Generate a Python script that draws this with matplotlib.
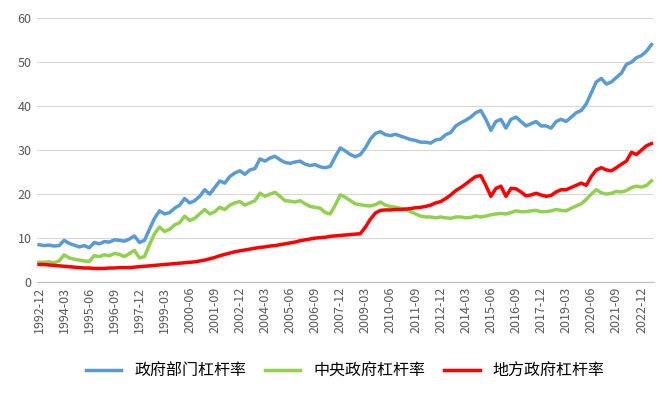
import matplotlib
matplotlib.use("Agg")
import matplotlib.pyplot as plt

plt.rcParams["font.family"] = ["Noto Sans CJK SC"]

gov = [8.5,
 8.3,8.4,8.2,8.3, 9.5,8.8,8.4,8.0, 8.3,7.8,9.0,8.7, 9.2,9.1,9.6,9.5, 9.3,9.8,10.5,9.0,
 9.5,12,14.5,16.2, 15.5,15.8,16.8,17.5, 19,18,18.5,19.5, 21,20,21.5,23, 22.5,24,24.8,25.3,
 24.5,25.5,25.8,28, 27.5,28.2,28.6,27.8, 27.2,27,27.3,27.5, 26.8,26.5,26.7,26.2, 26,26.3,28.5,30.5,
 29.8,29,28.5,29, 30.5,32.5,33.8,34.2, 33.5,33.3,33.6,33.2, 32.8,32.4,32.2,31.8, 31.8,31.6,32.3,32.5,
 33.5,34,35.5,36.2, 36.8,37.5,38.5,39, 37,34.5,36.5,37, 35,37,37.5,36.5, 35.5,36,36.5,35.5,
 35.5,35,36.5,37, 36.5,37.5,38.5,39, 40.5,43,45.5,46.3, 45,45.5,46.5,47.5, 49.5,50,51,51.5, 52.5,54]
central = [4.5,
 4.5,4.6,4.4,4.8, 6.2,5.5,5.2,5.0, 4.8,4.7,6.0,5.8, 6.2,6.0,6.5,6.3, 5.8,6.5,7.2,5.5,
 5.8,8.5,11,12.5, 11.5,12,13,13.5, 15,14,14.5,15.5, 16.5,15.5,16,17, 16.5,17.5,18,18.3,
 17.5,18,18.5,20.2, 19.5,20,20.4,19.5, 18.5,18.4,18.2,18.5, 17.8,17.2,17,16.8, 15.8,15.5,17.5,19.8,
 19.3,18.5,17.8,17.6, 17.4,17.3,17.6,18.2, 17.5,17.2,17,16.8, 16.5,16,15.5,15, 14.8,14.8,14.6,14.8,
 14.6,14.5,14.8,14.8, 14.6,14.7,15,14.8, 15,15.3,15.5,15.6, 15.5,15.8,16.2,16, 16,16.2,16.3,16,
 16,16.2,16.5,16.3, 16.2,16.8,17.3,17.8, 18.8,20,21,20.3, 20,20.2,20.6,20.5, 20.8,21.5,21.8,21.6, 22,23]
local = [4.0,
 4,3.9,3.8,3.7, 3.6,3.5,3.4,3.3, 3.2,3.2,3.1,3.1, 3.1,3.2,3.2,3.3, 3.3,3.3,3.4,3.5,
 3.6,3.7,3.8,3.9, 4,4.1,4.2,4.3, 4.4,4.5,4.6,4.8, 5,5.3,5.6,6, 6.3,6.6,6.9,7.1,
 7.3,7.5,7.7,7.9, 8,8.2,8.3,8.5, 8.7,8.9,9.1,9.4, 9.6,9.8,10,10.1, 10.2,10.4,10.5,10.6,
 10.7,10.8,10.9,11, 12.5,14.3,15.7,16.3, 16.4,16.4,16.5,16.5, 16.6,16.7,16.9,17, 17.2,17.5,18,18.3,
 19,19.8,20.8,21.5, 22.3,23.2,24,24.2, 22,19.5,21.3,21.8, 19.5,21.3,21.2,20.5, 19.6,19.8,20.2,19.8,
 19.5,19.7,20.5,21, 21,21.5,22,22.5, 22,24,25.5,26, 25.5,25.3,26,26.8, 27.5,29.5,29,30, 31,31.5]

dates = ["1992-12"] + [f"{y}-{m:02d}" for y in range(1993, 2024) for m in (3, 6, 9, 12)]
dates = dates[:len(gov)]
names = ["政府部门杠杆率", "中央政府杠杆率", "地方政府杠杆率"]

fig, ax = plt.subplots(figsize=(6.64, 4.03), dpi=100)
fig.subplots_adjust(left=0.055, right=0.985, top=0.955, bottom=0.30)
x = range(len(gov))
ax.plot(x, gov, color="#5b9bd5", lw=2.5, label=names[0])
ax.plot(x, central, color="#92d050", lw=2.5, label=names[1])
ax.plot(x, local, color="#ff0000", lw=2.5, label=names[2])
ax.set_ylim(0, 60)
ax.set_yticks(range(0, 61, 10))
ax.set_xlim(-0.5, len(gov) - 0.5)
ax.set_xticks(list(range(0, len(gov), 5)))
ax.set_xticklabels(dates[::5], rotation=90, fontsize=9, color="#595959")
ax.tick_params(axis="y", labelsize=9, colors="#595959", length=0)
ax.tick_params(axis="x", length=0)
ax.grid(axis="y", color="#d9d9d9", lw=0.8)
for s in ["top", "right", "left"]:
    ax.spines[s].set_visible(False)
ax.spines["bottom"].set_color("#bfbfbf")
ax.legend(loc="upper center", bbox_to_anchor=(0.5, -0.25), ncol=3, frameon=False,
          fontsize=11.5, handlelength=2.2, columnspacing=1.2)
fig.savefig("out.png")
